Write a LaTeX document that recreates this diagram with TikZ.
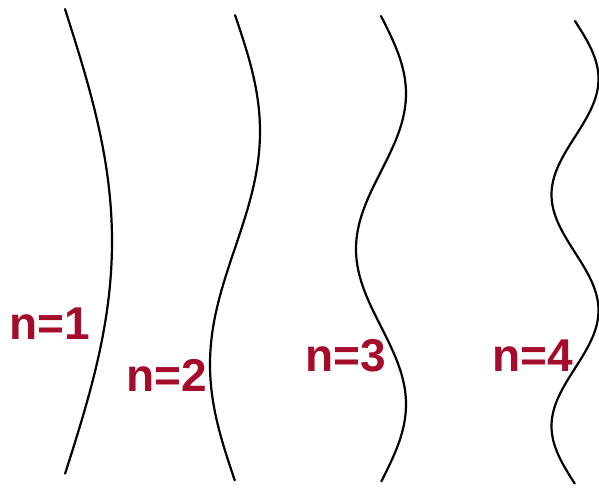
\documentclass[tikz,border=0pt]{standalone}
\usepackage{fontspec}
\setmainfont{Liberation Sans}
\definecolor{lbl}{RGB}{165,12,42}
\begin{document}
\begin{tikzpicture}[x=1pt,y=-1pt,
  wave/.style={line width=2.2pt, black, line cap=round},
  lab/.style={text=lbl, font=\fontsize{46}{46}\selectfont\bfseries, inner sep=0pt, anchor=base west}]
\useasboundingbox (0,0) rectangle (599,488);
\draw[wave] plot[smooth, domain=0:1, samples=80, variable=\t] ({65+47*sin(180*\t)}, {9+465*\t});
\draw[wave] plot[smooth, domain=0:1, samples=100, variable=\t] ({235+25*sin(360*\t)}, {15+466*\t});
\draw[wave] plot[smooth, domain=0:1, samples=120, variable=\t] ({381+25*sin(540*\t)}, {16+466*\t});
\draw[wave] plot[smooth, domain=0:1, samples=140, variable=\t] ({575+23.5*sin(720*\t)}, {21+463*\t});
\node[lab] (n1) at (9,339) {n=1};
\node[lab] (n2) at (126,391) {n=2};
\node[lab] (n3) at (305,371) {n=3};
\node[lab] (n4) at (492,371) {n=4};
\end{tikzpicture}
\end{document}
